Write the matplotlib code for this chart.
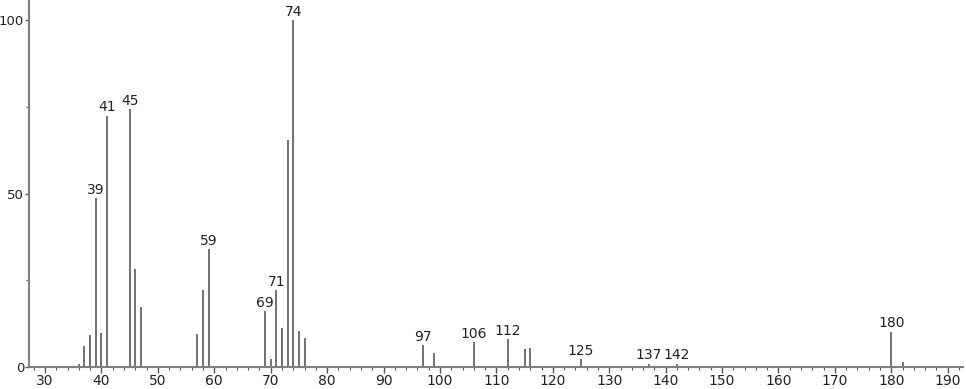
import matplotlib
matplotlib.use('Agg')
from matplotlib import pyplot as plt
from matplotlib.ticker import MultipleLocator

# m/z and relative intensity
mz = [36, 37, 38, 39, 40, 41, 45, 46, 47, 57, 58, 59, 69, 70, 71, 72, 73, 74,
      75, 76, 97, 99, 106, 112, 115, 116, 125, 137, 142, 180, 182]
intensity = [1.0, 6.0, 9.2, 48.7, 9.8, 72.4, 74.4, 28.3, 17.4, 9.5, 22.2, 34.0,
             16.1, 2.3, 22.2, 11.2, 65.4, 100.0, 10.4, 8.4, 6.3, 4.1, 7.1, 8.1,
             5.1, 5.5, 2.2, 0.9, 0.9, 10.2, 1.5]
labeled = [39, 41, 45, 59, 69, 71, 74, 97, 106, 112, 125, 137, 142, 180]

fig = plt.figure(figsize=(9.66, 3.89), dpi=100)
ax = fig.add_axes([29/966, 22/389, 934/966, 367/389])

ax.vlines(mz, 0, intensity, color='#666666', linewidth=1.3)
for m, v in zip(mz, intensity):
    if m in labeled:
        ax.text(m, v + 0.4, str(m), ha='center', va='bottom', fontsize=10,
                color='#222222')

ax.set_xlim(27.17, 192.7)
ax.set_ylim(0, 105.8)
ax.xaxis.set_major_locator(MultipleLocator(10))
ax.xaxis.set_minor_locator(MultipleLocator(2))
ax.set_yticks([0, 50, 100])
ax.yaxis.set_minor_locator(MultipleLocator(25))

for s in ['top', 'right']:
    ax.spines[s].set_visible(False)
for s in ['left', 'bottom']:
    ax.spines[s].set_color('#808080')
    ax.spines[s].set_linewidth(1.5)

ax.tick_params(which='major', length=4, width=1, color='#555555',
               labelsize=10, labelcolor='#222222', pad=1)
ax.tick_params(axis='y', which='major', length=3, labelsize=9.5, pad=0.5)
ax.tick_params(which='minor', length=2.5, width=0.8, color='#555555')

fig.savefig('out.png', dpi=100)
